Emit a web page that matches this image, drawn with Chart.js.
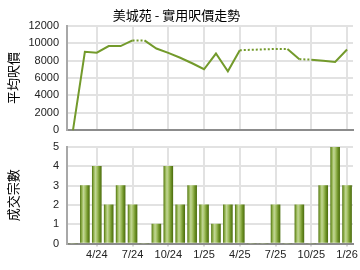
<!DOCTYPE html>
<html>
<head>
<meta charset="utf-8">
<script src="https://cdn.jsdelivr.net/npm/chart.js@4/dist/chart.umd.min.js"></script>
<style>
  body { margin: 0; background: #fff; }
  canvas { display: block; }
</style>
</head>
<body>
<canvas id="priceChart" width="360" height="138"></canvas>
<canvas id="countChart" width="360" height="132"></canvas>
<script>
// months 2/24 .. 1/26
const months = ['2/24','3/24','4/24','5/24','6/24','7/24','8/24','9/24','10/24','11/24','12/24',
    '1/25','2/25','3/25','4/25','5/25','6/25','7/25','8/25','9/25','10/25','11/25','12/25','1/26'];
const tickLabels = ['4/24','7/24','10/24','1/25','4/25','7/25','10/25','1/26'];
const prices = [0, 9000, 8900, 9650, 9650, 10300, 10300, 9380, 8870, 8320, 7690,
    7000, 8800, 6770, 9180, 9230, 9280, 9330, 9330, 8150, 8100, 7980, 7840, 9260];
// months where the price line is drawn dotted into that point
const carriedMonths = ['8/24','5/25','6/25','7/25','8/25','10/25'];
const counts = [0, 3, 4, 2, 3, 2, 0, 1, 4, 2, 3, 2, 1, 2, 2, 0, 0, 2, 0, 2, 0, 3, 5, 3];
const priceTicks = [0, 2000, 4000, 6000, 8000, 10000, 12000];
const countTicks = [0, 1, 2, 3, 4, 5];

Chart.defaults.font.family = "'Liberation Sans', Arial, 'Noto Sans CJK TC', sans-serif";
Chart.defaults.font.size = 11;
Chart.defaults.color = '#222';

const gridColor = '#e2e2e2';
const lineGreen = '#739a2b';

function isLabelled(i) {
    return tickLabels.includes(months[i]);
}

function xScale(showLabels, height) {
    return {
        type: 'category',
        offset: true,
        grid: {
            offset: false,
            lineWidth: 2,
            color: ctx => isLabelled(ctx.index) ? gridColor : 'rgba(0,0,0,0)',
            tickColor: ctx => isLabelled(ctx.index) ? '#aaa' : 'rgba(0,0,0,0)',
            drawTicks: showLabels,
            tickLength: 3,
            tickWidth: 1
        },
        border: { color: '#8c8c8c', width: 2 },
        ticks: {
            display: showLabels,
            autoSkip: false,
            maxRotation: 0,
            padding: 2,
            callback: (v, i) => isLabelled(i) ? months[i] : ''
        },
        afterFit: s => { s.height = height; }
    };
}

function yScale(max, step, title) {
    return {
        min: 0,
        max: max,
        afterFit: s => { s.width = 67; },
        grid: { color: gridColor, lineWidth: 2, drawTicks: true, tickLength: 7, tickColor: 'rgba(0,0,0,0)' },
        border: { color: '#a8a8a8', width: 2 },
        ticks: { stepSize: step, padding: 1, callback: v => String(v) },
        title: {
            display: true,
            text: title,
            color: '#000',
            font: { size: 13, family: "'Noto Sans CJK TC', sans-serif" },
            padding: { top: 5, bottom: 0 }
        }
    };
}

new Chart(document.getElementById('priceChart'), {
    type: 'line',
    data: {
        labels: months,
        datasets: [{
            data: prices,
            borderColor: lineGreen,
            borderWidth: 2,
            pointRadius: 0,
            tension: 0,
            segment: {
                borderDash: ctx => carriedMonths.includes(months[ctx.p1DataIndex]) ? [2, 2] : undefined
            }
        }]
    },
    options: {
        responsive: false,
        animation: false,
        layout: { padding: { left: 0, right: 7, top: 0, bottom: 0 } },
        plugins: {
            legend: { display: false },
            tooltip: { enabled: false },
            title: {
                display: true,
                text: '美城苑 - 實用呎價走勢',
                color: '#000',
                font: { size: 13, weight: 'normal', family: "'Noto Sans CJK TC', sans-serif" },
                padding: { top: 7, bottom: 3 }
            }
        },
        scales: {
            x: xScale(false, 7),
            y: yScale(priceTicks[priceTicks.length - 1], priceTicks[1] - priceTicks[0], '平均呎價')
        }
    }
});

new Chart(document.getElementById('countChart'), {
    type: 'bar',
    data: {
        labels: months,
        datasets: [{
            data: counts,
            barThickness: 9,
            borderWidth: 0,
            backgroundColor: ctx => {
                const chart = ctx.chart;
                const xs = chart.scales.x;
                if (!xs || ctx.type !== 'data') return '#8aab45';
                const x = xs.getPixelForValue(ctx.dataIndex);
                if (!Number.isFinite(x)) return '#8aab45';
                const g = chart.ctx.createLinearGradient(x - 4.5, 0, x + 4.5, 0);
                g.addColorStop(0, '#5b7d1a');
                g.addColorStop(0.15, '#8fb04a');
                g.addColorStop(0.35, '#c2d696');
                g.addColorStop(0.55, '#a3c063');
                g.addColorStop(0.8, '#6e9226');
                g.addColorStop(1, '#4f7012');
                return g;
            }
        }]
    },
    options: {
        responsive: false,
        animation: false,
        layout: { padding: { left: 0, right: 7, top: 9, bottom: 0 } },
        plugins: {
            legend: { display: false },
            tooltip: { enabled: false }
        },
        scales: {
            x: xScale(true, 26.5),
            y: yScale(countTicks[countTicks.length - 1], countTicks[1] - countTicks[0], '成交宗數')
        }
    }
});
</script>
</body>
</html>
